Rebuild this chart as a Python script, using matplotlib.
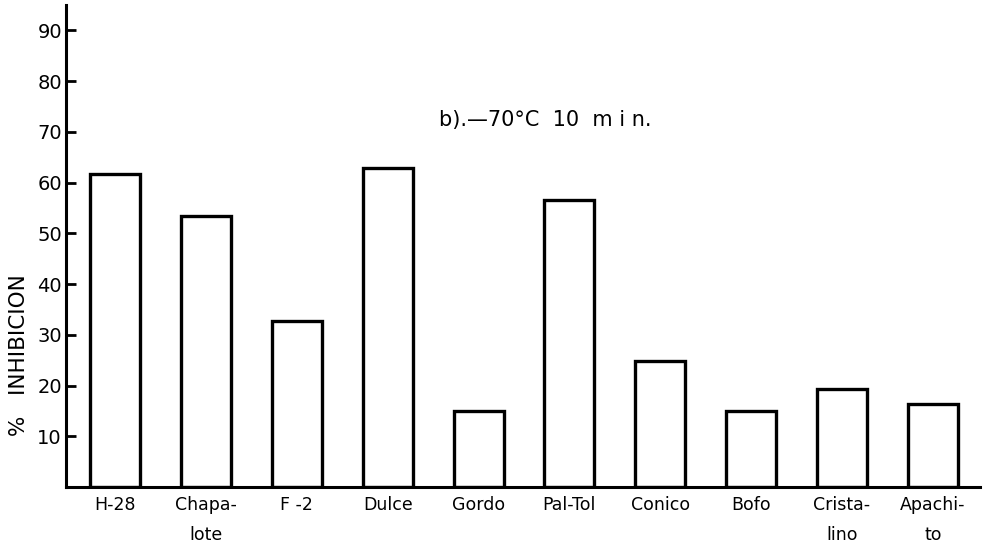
import matplotlib

matplotlib.use("Agg")
import matplotlib.pyplot as plt
import numpy as np

varieties = ["H-28", "Chapa-\nlote", "F -2", "Dulce", "Gordo", "Pal-Tol",
             "Conico", "Bofo", "Crista-\nlino", "Apachi-\nto"]
inhibition = [61.6, 53.5, 32.8, 62.8, 15.1, 56.5, 24.8, 15.1, 19.4, 16.3]
y_ticks = [10, 20, 30, 40, 50, 60, 70, 80, 90]

plt.rcParams["font.family"] = ["DejaVu Sans"]

fig = plt.figure(figsize=(9.86, 5.48), dpi=100)
ax = fig.add_axes([0.067, 0.111, 0.927, 0.880])

x = np.arange(len(varieties))
ax.bar(x, inhibition, width=0.55, facecolor="white", edgecolor="black", linewidth=2.4)

ax.set_xlim(-0.54, 9.52)
ax.set_ylim(0, 95)
ax.set_yticks(y_ticks)
ax.set_yticklabels([str(v) for v in y_ticks], fontsize=14, fontweight="medium")
ax.set_xticks(x)
ax.set_xticklabels(varieties, fontsize=12.5, linespacing=1.9, va="top")
ax.tick_params(axis="y", direction="in", length=7, width=2, pad=3)
ax.tick_params(axis="x", length=0, pad=6)

for side in ("top", "right"):
    ax.spines[side].set_visible(False)
for side in ("left", "bottom"):
    ax.spines[side].set_linewidth(2.2)

ax.text(0.408, 0.762, "b).\u201470\u00b0C  10  m i n.", transform=ax.transAxes,
        fontsize=15, ha="left", va="center")
fig.text(0.019, 0.352, "%   INHIBICION", rotation=90, fontsize=15.5,
         ha="center", va="center")

fig.savefig("out.png", dpi=100, facecolor="white")
